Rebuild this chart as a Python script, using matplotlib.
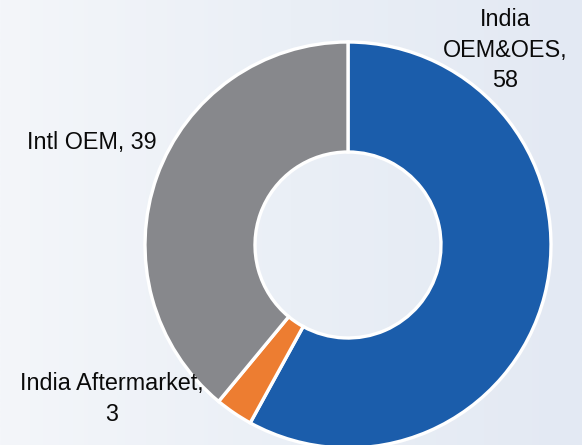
import matplotlib
matplotlib.use("Agg")
import matplotlib.pyplot as plt
import numpy as np
from matplotlib import font_manager
from matplotlib.colors import LinearSegmentedColormap

categories = ["India\nOEM&OES", "India Aftermarket", "Intl OEM"]
values = [58, 3, 39]
colors = ["#1B5DAB", "#ED7D31", "#87888C"]

W, H = 582, 445
fig = plt.figure(figsize=(W / 100, H / 100), dpi=100)
ax = fig.add_axes([0, 0, 1, 1])

# background gradient
grad = np.linspace(0, 1, 256)[None, :]
cmap = LinearSegmentedColormap.from_list("bg", ["#F4F6FA", "#EAEFF6", "#E3E9F3"])
ax.imshow(grad, extent=[0, W, 0, H], cmap=cmap, aspect="auto", zorder=0)

names = {f.name for f in font_manager.fontManager.ttflist}
fam = ["Liberation Sans Narrow", "Liberation Sans", "DejaVu Sans"]
fam = [f for f in fam if f in names] or ["DejaVu Sans"]

cx, cy, R = 348, H - 245, 203
wedges, _ = ax.pie(values, colors=colors, startangle=90, counterclock=False,
                   center=(cx, cy), radius=R,
                   wedgeprops=dict(width=R - 93, edgecolor="white", linewidth=2.4),
                   frame=True)
for w in wedges:
    w.set_zorder(2)

label_pos = [(505, H - 50), (112, H - 399), (92, H - 143)]
for name, v, (x, y) in zip(categories, values, label_pos):
    if name == "Intl OEM":
        txt = f"{name}, {v}"
    else:
        txt = f"{name},\n{v}"
    ax.text(x, y, txt, ha="center", va="center", fontsize=16.8, family=fam,
            color="#0A0A0A", linespacing=1.42, zorder=3)

ax.set_xlim(0, W)
ax.set_ylim(0, H)
ax.set_aspect("auto")
ax.axis("off")
fig.savefig("out.png", dpi=100)
